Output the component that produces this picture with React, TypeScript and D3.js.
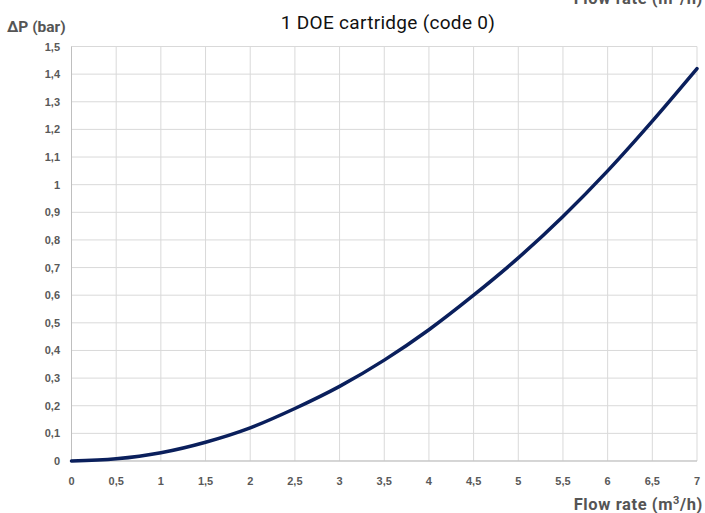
import React from "react";
import * as d3 from "d3";

const flowRates = [0, 0.5, 1, 1.5, 2, 2.5, 3, 3.5, 4, 4.5, 5, 5.5, 6, 6.5, 7];
const pressureDrop = [0, 0.008, 0.03, 0.068, 0.12, 0.19, 0.27, 0.365, 0.475, 0.6, 0.735, 0.885, 1.05, 1.23, 1.42];
const xTicks = [0, 0.5, 1, 1.5, 2, 2.5, 3, 3.5, 4, 4.5, 5, 5.5, 6, 6.5, 7];
const yTicks = [0, 0.1, 0.2, 0.3, 0.4, 0.5, 0.6, 0.7, 0.8, 0.9, 1, 1.1, 1.2, 1.3, 1.4, 1.5];
const title = "1 DOE cartridge (code 0)";
const yTitle = "ΔP (bar)";

const W = 705;
const H = 513;
const left = 71.5;
const right = 697;
const top = 46.5;
const bottom = 461;

const fmt = (v: number) => String(Math.round(v * 10) / 10).replace(".", ",");

export default function App() {
  const x = d3.scaleLinear().domain([0, 7]).range([left, right]);
  const y = d3.scaleLinear().domain([0, 1.5]).range([bottom, top]);
  const line = d3
    .line<number>()
    .x((_, i) => x(flowRates[i]))
    .y((d) => y(d))
    .curve(d3.curveMonotoneX);
  const tickFont = "'Liberation Sans', Arial, sans-serif";
  const titleFont = "Roboto, 'Noto Sans', sans-serif";
  const xTitle = (yy: number) => (
    <text x={703} y={yy} textAnchor="end" fontFamily={titleFont} fontWeight="bold" fontSize={16.5} letterSpacing={0.6} fill="#555">
      Flow rate (m<tspan fontSize={11} dy={-6}>3</tspan><tspan dy={6}>/h)</tspan>
    </text>
  );
  return (
    <svg width={W} height={H} style={{ position: "absolute", left: 0, top: 0 }}>
      <rect x={0} y={0} width={W} height={H} fill="#fff" />
      {xTicks.map((t) => (
        <line key={"gx" + t} x1={x(t)} x2={x(t)} y1={top} y2={bottom} stroke="#d9d9d9" strokeWidth={1} />
      ))}
      {yTicks.map((t) => (
        <line key={"gy" + t} x1={left} x2={right} y1={y(t)} y2={y(t)} stroke="#d9d9d9" strokeWidth={1} />
      ))}
      <line x1={left} x2={left} y1={top} y2={bottom} stroke="#bfbfbf" strokeWidth={1} />
      <line x1={left} x2={right} y1={bottom} y2={bottom} stroke="#bfbfbf" strokeWidth={1} />
      {yTicks.map((t) => (
        <text key={"ly" + t} x={60} y={y(t) + 4} textAnchor="end" fontFamily={tickFont} fontWeight="bold" fontSize={11} fill="#595959">
          {fmt(t)}
        </text>
      ))}
      {xTicks.map((t) => (
        <text key={"lx" + t} x={x(t)} y={485} textAnchor="middle" fontFamily={tickFont} fontWeight="bold" fontSize={11} fill="#595959">
          {fmt(t)}
        </text>
      ))}
      <path d={line(pressureDrop) || ""} fill="none" stroke="#0a1f5c" strokeWidth={3.5} strokeLinecap="round" />
      <text x={388} y={29} textAnchor="middle" fontFamily={titleFont} fontWeight={400} fontSize={19} letterSpacing={0.3} fill="#111">
        {title}
      </text>
      <text x={7} y={32} fontFamily={titleFont} fontWeight="bold" fontSize={15.5} fill="#555">
        {yTitle}
      </text>
      {xTitle(510)}
      {xTitle(4)}
    </svg>
  );
}
